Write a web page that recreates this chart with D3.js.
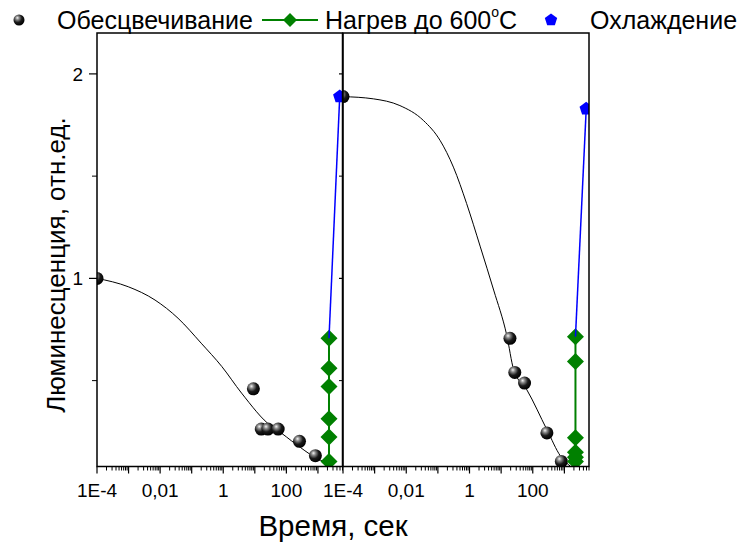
<!DOCTYPE html>
<html>
<head>
<meta charset="utf-8">
<script src="https://cdn.jsdelivr.net/npm/d3@7"></script>
<style>
  body { margin: 0; background: #fff; }
  svg { display: block; }
  text { font-family: "Liberation Sans", Arial, sans-serif; fill: #000; }
</style>
</head>
<body>
<svg id="chart" width="742" height="544"></svg>
<script>
// Axis ticks
const xTickValues = [1e-4, 1e-2, 1, 1e2];
const xTickLabels = ["1E-4", "0,01", "1", "100"];
const yMajorTicks = [1, 2];
const yMinorTicks = [0.5, 1.5];

// Series names
const seriesNames = ["Обесцвечивание", "Нагрев до 600", "Охлаждение"];

// Left panel: bleaching points [time, luminescence]
const bleachLeft = [[1e-4, 1.0], [9, 0.46], [16, 0.263], [26, 0.263], [55, 0.263], [260, 0.203], [830, 0.133]];
// Left panel: fitted decay curve
const fitLeft = [[1e-4, 1.0], [9.8e-4, 0.959], [6.9e-3, 0.894], [0.037, 0.805], [0.2, 0.683], [0.9, 0.569],
                 [3.8, 0.439], [34, 0.276], [49, 0.26], [210, 0.187], [710, 0.13], [1450, 0.105]];
// Left panel: heating to 600 °C
const heatLeft = [[2240, 0.105], [2240, 0.224], [2240, 0.314], [2240, 0.471], [2240, 0.561], [2240, 0.707]];
// Left panel: cooling
const coolLeft = [[2240, 0.707], [4900, 1.889]];

// Right panel: bleaching points
const bleachRight = [[1e-4, 1.889], [19, 0.707], [27, 0.54], [55, 0.488], [280, 0.244], [800, 0.105]];
// Right panel: fitted decay curve
const fitRight = [[1e-4, 1.889], [9.1e-4, 1.878], [6.3e-3, 1.845], [0.035, 1.772], [0.117, 1.675], [0.31, 1.544],
                  [0.81, 1.366], [2.2, 1.154], [5.8, 0.943], [15, 0.723], [25, 0.553], [65, 0.455],
                  [280, 0.26], [760, 0.13], [1580, 0.08]];
// Right panel: heating to 600 °C
const heatRight = [[2240, 0.105], [2240, 0.125], [2240, 0.15], [2240, 0.22], [2240, 0.593], [2240, 0.715]];
// Right panel: cooling
const coolRight = [[2240, 0.715], [4900, 1.829]];

const svg = d3.select("#chart");
const plotTop = 33, plotBottom = 466.5;
const y = d3.scaleLinear().domain([0.08, 2.2]).range([plotBottom, plotTop]);

const GREEN = "#008000", BLUE = "#0000ff";

// Glossy sphere gradient
const defs = svg.append("defs");
const grad = defs.append("radialGradient").attr("id", "ball")
  .attr("cx", "0.38").attr("cy", "0.35").attr("r", "0.65").attr("fx", "0.35").attr("fy", "0.3");
grad.append("stop").attr("offset", "0").attr("stop-color", "#f4f4f4");
grad.append("stop").attr("offset", "0.25").attr("stop-color", "#8a8a8a");
grad.append("stop").attr("offset", "0.6").attr("stop-color", "#1a1a1a");
grad.append("stop").attr("offset", "1").attr("stop-color", "#000");

const diamondPath = h => `M0,${-h}L${h},0L0,${h}L${-h},0Z`;
const pentagonPath = r => {
  const pts = d3.range(5).map(k => {
    const a = -Math.PI / 2 + k * 2 * Math.PI / 5;
    return [r * Math.cos(a), r * Math.sin(a)];
  });
  return "M" + pts.map(p => p.join(",")).join("L") + "Z";
};

const panels = [
  { id: "p0", x0: 97, x1: 342.5, bleach: bleachLeft, fit: fitLeft, heat: heatLeft, cool: coolLeft },
  { id: "p1", x0: 343, x1: 589, bleach: bleachRight, fit: fitRight, heat: heatRight, cool: coolRight }
];

panels.forEach((p, i) => {
  const x = d3.scaleLog().domain([1e-4, 6000]).range([p.x0, p.x1]);
  defs.append("clipPath").attr("id", "clip-" + p.id)
    .append("rect").attr("x", p.x0).attr("y", plotTop).attr("width", p.x1 - p.x0).attr("height", plotBottom - plotTop);

  const g = svg.append("g").attr("clip-path", `url(#clip-${p.id})`);
  const line = d3.line().x(d => x(d[0])).y(d => y(d[1]));

  // fitted curve
  g.append("path").datum(p.fit)
    .attr("d", line.curve(d3.curveMonotoneX))
    .attr("fill", "none").attr("stroke", "#000").attr("stroke-width", 1);

  // bleaching points
  g.selectAll(".ball").data(p.bleach).join("circle")
    .attr("cx", d => x(d[0])).attr("cy", d => y(d[1])).attr("r", 6.5)
    .attr("fill", "url(#ball)");

  // heating line + diamonds
  g.append("path").datum(p.heat)
    .attr("d", d3.line().x(d => x(d[0])).y(d => y(d[1])))
    .attr("fill", "none").attr("stroke", GREEN).attr("stroke-width", 2);
  g.selectAll(".dia").data(p.heat).join("path")
    .attr("transform", d => `translate(${x(d[0])},${y(d[1])})`)
    .attr("d", diamondPath(8.5)).attr("fill", GREEN);

  // cooling line + pentagon
  g.append("path").datum(p.cool)
    .attr("d", d3.line().x(d => x(d[0])).y(d => y(d[1])))
    .attr("fill", "none").attr("stroke", BLUE).attr("stroke-width", 1.5);
  g.selectAll(".pent").data(p.cool.slice(1)).join("path")
    .attr("transform", d => `translate(${x(d[0])},${y(d[1])})`)
    .attr("d", pentagonPath(7)).attr("fill", BLUE);

  // x axis: major decades + minor ticks
  const ax = svg.append("g");
  const decades = d3.range(-4, 4).map(e => Math.pow(10, e));
  const minors = [];
  decades.forEach(dv => d3.range(2, 10).forEach(m => { if (dv * m <= 6000) minors.push(dv * m); }));
  ax.selectAll(".maj").data(decades).join("line")
    .attr("x1", d => x(d)).attr("x2", d => x(d)).attr("y1", plotBottom).attr("y2", plotBottom + 7)
    .attr("stroke", "#000").attr("stroke-width", 1.2);
  ax.selectAll(".min").data(minors).join("line")
    .attr("x1", d => x(d)).attr("x2", d => x(d)).attr("y1", plotBottom).attr("y2", plotBottom + 4)
    .attr("stroke", "#000").attr("stroke-width", 1);
  ax.selectAll(".lab").data(xTickValues).join("text")
    .attr("x", (d) => x(d)).attr("y", plotBottom + 30.5)
    .attr("text-anchor", "middle").attr("font-size", 19)
    .text((d, j) => xTickLabels[j]);

  // y ticks
  const ay = svg.append("g");
  const tl = i === 0 ? 8 : 4, tm = i === 0 ? 5 : 4;
  ay.selectAll(".ymaj").data(yMajorTicks).join("line")
    .attr("x1", p.x0 - tl).attr("x2", p.x0).attr("y1", d => y(d)).attr("y2", d => y(d))
    .attr("stroke", "#000").attr("stroke-width", 1.2);
  ay.selectAll(".ymin").data(yMinorTicks).join("line")
    .attr("x1", p.x0 - tm).attr("x2", p.x0).attr("y1", d => y(d)).attr("y2", d => y(d))
    .attr("stroke", "#000").attr("stroke-width", 1);
  if (i === 0) {
    ay.selectAll(".ylab").data(yMajorTicks).join("text")
      .attr("x", p.x0 - 14).attr("y", d => y(d) + 7)
      .attr("text-anchor", "end").attr("font-size", 19)
      .text(d => d);
  }

  // frame
  svg.append("rect").attr("x", p.x0).attr("y", plotTop)
    .attr("width", p.x1 - p.x0).attr("height", plotBottom - plotTop)
    .attr("fill", "none").attr("stroke", "#000").attr("stroke-width", 1.5);
});

// axis titles
svg.append("text").attr("x", 333).attr("y", 536).attr("text-anchor", "middle")
  .attr("font-size", 29.5).text("Время, сек");
svg.append("text").attr("transform", "translate(65,265) rotate(-90)")
  .attr("text-anchor", "middle").attr("font-size", 26).text("Люминесценция, отн.ед.");

// legend
const lg = svg.append("g");
lg.append("circle").attr("cx", 19).attr("cy", 20).attr("r", 5.5).attr("fill", "url(#ball)");
lg.append("text").attr("x", 57).attr("y", 29).attr("font-size", 25).text(seriesNames[0]);
lg.append("line").attr("x1", 262).attr("x2", 318).attr("y1", 20).attr("y2", 20)
  .attr("stroke", GREEN).attr("stroke-width", 2);
lg.append("path").attr("transform", "translate(290,20)").attr("d", diamondPath(7)).attr("fill", GREEN);
const ht = lg.append("text").attr("x", 325).attr("y", 29).attr("font-size", 25);
ht.append("tspan").text(seriesNames[1]);
ht.append("tspan").attr("font-size", 14).attr("dy", -12).text("o");
ht.append("tspan").attr("dy", 12).text("C");
lg.append("path").attr("transform", "translate(551,20)").attr("d", pentagonPath(6.5)).attr("fill", BLUE);
lg.append("text").attr("x", 590).attr("y", 29).attr("font-size", 25).text(seriesNames[2]);
</script>
</body>
</html>
